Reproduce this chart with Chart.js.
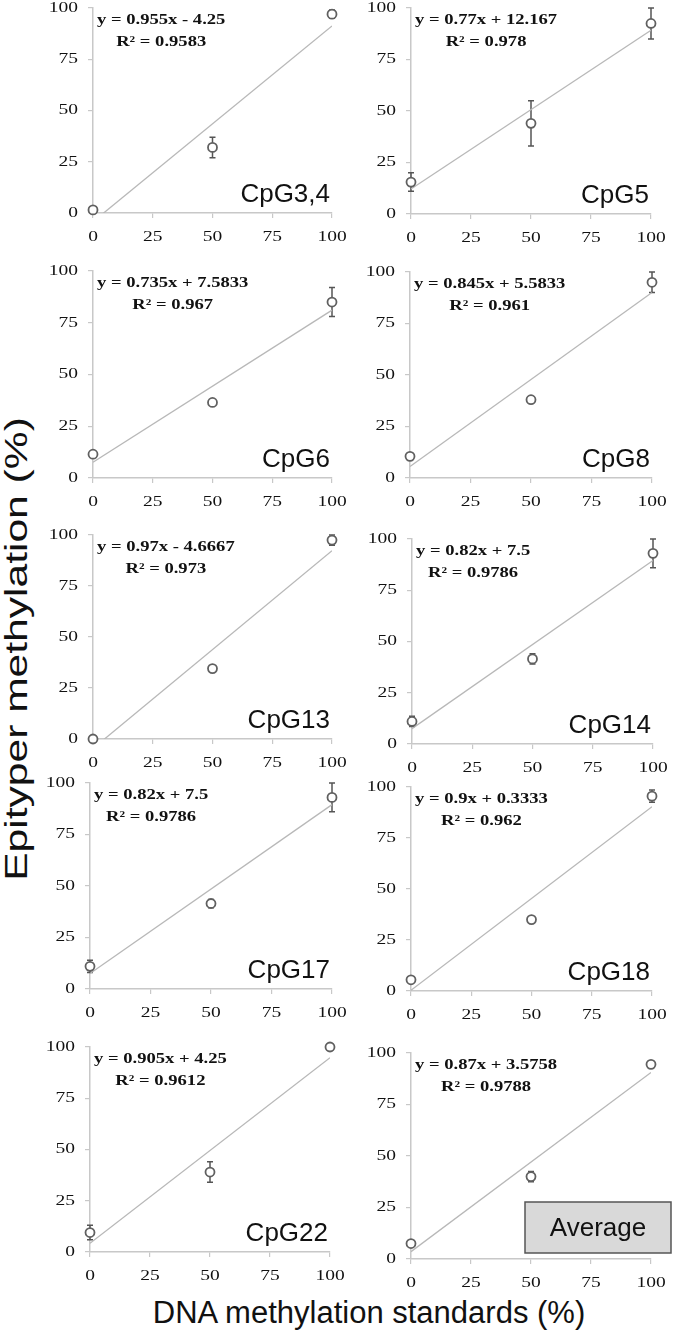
<!DOCTYPE html>
<html lang="en">
<head>
    <meta charset="UTF-8">
    <title>Epityper calibration</title>
    <style>
        body {
            margin: 0;
            background: #fff;
        }
        #page {
            position: relative;
            width: 677px;
            height: 1331px;
            overflow: hidden;
        }
        .panel {
            position: absolute;
        }
        .ytitle {
            position: absolute;
            left: 16px;
            top: 649px;
            font-family: "Liberation Sans", Arial, sans-serif;
            font-size: 32px;
            color: #111;
            white-space: nowrap;
            transform: translate(-50%, -50%) rotate(-90deg) scaleX(1.33);
        }
        .xtitle {
            position: absolute;
            left: 369px;
            top: 1297px;
            font-family: "Liberation Sans", Arial, sans-serif;
            font-size: 31px;
            line-height: 31px;
            color: #111;
            white-space: nowrap;
            transform: translateX(-50%);
        }
    </style>
    <script src="https://cdn.jsdelivr.net/npm/chart.js"></script>
</head>
<body>
<div id="page">
    <div class="ytitle">Epityper methylation (%)</div>
    <div class="xtitle">DNA methylation standards (%)</div>
</div>
<script>
    // data
    const panelNames = ['CpG3,4', 'CpG5', 'CpG6', 'CpG8', 'CpG13', 'CpG14', 'CpG17', 'CpG18', 'CpG22', 'Average'];
    const standards = [0, 50, 100];
    const axisTicks = [0, 25, 50, 75, 100];

    const measured = [
        [1.5, 32, 97],
        [15.5, 44, 92.5],
        [11.5, 36.5, 85],
        [10.5, 38, 95],
        [0, 34.5, 97.5],
        [11, 41.5, 93],
        [11, 41.5, 93],
        [5.5, 35, 95.5],
        [9.5, 39, 100],
        [7.5, 40, 94.5]
    ];
    const errors = [
        [0.8, 5, 2],
        [4.5, 11, 7.5],
        [1, 1, 7],
        [1, 1, 5],
        [0.5, 1, 2.5],
        [2.5, 2.5, 7],
        [3, 2, 7],
        [1, 1, 3],
        [3.5, 5, 0],
        [1, 2.5, 1]
    ];
    const slopes = [0.955, 0.77, 0.735, 0.845, 0.97, 0.82, 0.82, 0.9, 0.905, 0.87];
    const intercepts = [-4.25, 12.167, 7.5833, 5.5833, -4.6667, 7.5, 7.5, 0.3333, 4.25, 3.5758];
    const rSquared = ['0.9583', '0.978', '0.967', '0.961', '0.973', '0.9786', '0.9786', '0.962', '0.9612', '0.9788'];

    // plot-area boxes on the page (left, right, top, bottom)
    const boxes = [
        [93, 332, 8, 213], [411, 651, 8, 214],
        [93, 332, 271, 478], [410, 652, 272, 478],
        [93, 332, 535, 739], [412, 653, 539, 744],
        [90, 332, 783, 989], [411, 652, 787, 991],
        [90, 330, 1047, 1252], [411, 651, 1053, 1259]
    ];

    const AXW = 60, AXH = 40, PT = 12, PR = 26;
    const serif = '"Liberation Serif", "Times New Roman", serif';
    const sans = '"Liberation Sans", Arial, sans-serif';

    // the original's serif text is a bit wider than it is tall
    function wideText(ctx, text, x, y, sx, align) {
        const w = ctx.measureText(text).width * sx;
        let left = x;
        if (align === 'center') left = x - w / 2;
        if (align === 'right') left = x - w;
        ctx.save();
        ctx.translate(left, y);
        ctx.scale(sx, 1);
        ctx.textAlign = 'left';
        ctx.fillText(text, 0, 0);
        ctx.restore();
        return w;
    }

    const errorBars = {
        id: 'errorBars',
        beforeDatasetsDraw(chart, args, opts) {
            const ctx = chart.ctx, xs = chart.scales.x, ys = chart.scales.y;
            ctx.save();
            ctx.strokeStyle = '#555';
            ctx.lineWidth = 1.5;
            opts.means.forEach((m, i) => {
                const e = opts.err[i];
                if (!e) return;
                const px = xs.getPixelForValue(standards[i]);
                const top = ys.getPixelForValue(m + e), bot = ys.getPixelForValue(m - e);
                ctx.beginPath();
                ctx.moveTo(px, top); ctx.lineTo(px, bot);
                ctx.moveTo(px - 3, top); ctx.lineTo(px + 3, top);
                ctx.moveTo(px - 3, bot); ctx.lineTo(px + 3, bot);
                ctx.stroke();
            });
            ctx.restore();
        }
    };

    const tickLabels = {
        id: 'tickLabels',
        afterDraw(chart) {
            const ctx = chart.ctx, a = chart.chartArea, xs = chart.scales.x, ys = chart.scales.y;
            ctx.save();
            ctx.fillStyle = '#111';
            ctx.font = '15px ' + serif;
            ctx.textBaseline = 'middle';
            xs.ticks.forEach(t => wideText(ctx, String(t.value), xs.getPixelForValue(t.value), a.bottom + 24, 1.3, 'center'));
            ys.ticks.forEach(t => wideText(ctx, String(t.value), a.left - 15, ys.getPixelForValue(t.value), 1.3, 'right'));
            ctx.restore();
        }
    };

    const annotations = {
        id: 'annotations',
        afterDatasetsDraw(chart, args, opts) {
            const ctx = chart.ctx, a = chart.chartArea;
            ctx.save();
            ctx.fillStyle = '#111';
            ctx.font = 'bold 15px ' + serif;
            ctx.textBaseline = 'middle';
            const w1 = wideText(ctx, opts.eq, a.left + 4, a.top + 12, 1.24, 'left');
            wideText(ctx, opts.r2, a.left + 4 + w1 / 2, a.top + 34, 1.24, 'center');

            ctx.font = '26px ' + sans;
            if (opts.boxed) {
                const l = a.right - 126, r = a.right + 20, t = a.bottom - 57, b = a.bottom - 6;
                ctx.fillStyle = '#d9d9d9';
                ctx.fillRect(l, t, r - l, b - t);
                ctx.strokeStyle = '#555';
                ctx.lineWidth = 1.5;
                ctx.strokeRect(l, t, r - l, b - t);
                ctx.fillStyle = '#111';
                ctx.textAlign = 'center';
                ctx.textBaseline = 'middle';
                ctx.fillText(opts.name, (l + r) / 2, (t + b) / 2 + 1);
            } else {
                ctx.textAlign = 'right';
                ctx.textBaseline = 'alphabetic';
                ctx.fillText(opts.name, a.right - 2, a.bottom - 11);
            }
            ctx.restore();
        }
    };

    function axis(fit) {
        return {
            type: 'linear',
            min: 0,
            max: 100,
            afterBuildTicks: s => { s.ticks = axisTicks.map(v => ({ value: v })); },
            afterFit: fit,
            grid: { drawOnChartArea: false, drawTicks: true, tickLength: 5, color: '#c8c8c8', lineWidth: 1.2 },
            border: { color: '#c8c8c8', width: 1.5 },
            ticks: { display: false }
        };
    }

    const page = document.getElementById('page');
    panelNames.forEach((name, i) => {
        const [l, r, t, b] = boxes[i];
        const w = (r - l) + AXW + PR, h = (b - t) + PT + AXH;
        const div = document.createElement('div');
        div.className = 'panel';
        div.style.left = (l - AXW) + 'px';
        div.style.top = (t - PT) + 'px';
        const canvas = document.createElement('canvas');
        canvas.width = w;
        canvas.height = h;
        div.appendChild(canvas);
        page.appendChild(div);

        const b0 = intercepts[i];
        const eq = 'y = ' + slopes[i] + 'x ' + (b0 < 0 ? '- ' : '+ ') + Math.abs(b0);

        new Chart(canvas.getContext('2d'), {
            type: 'scatter',
            data: {
                datasets: [
                    {
                        data: standards.map((x, k) => ({ x: x, y: measured[i][k] })),
                        pointRadius: 4.5,
                        pointBorderWidth: 1.8,
                        pointBorderColor: '#606060',
                        pointBackgroundColor: '#fff',
                        clip: false
                    },
                    {
                        data: [{ x: 0, y: b0 }, { x: 100, y: slopes[i] * 100 + b0 }],
                        showLine: true,
                        pointRadius: 0,
                        borderColor: '#b8b8b8',
                        borderWidth: 1.3
                    }
                ]
            },
            options: {
                responsive: false,
                animation: false,
                layout: { padding: { top: PT, right: PR, left: 0, bottom: 0 } },
                plugins: {
                    legend: { display: false },
                    tooltip: { enabled: false },
                    errorBars: { means: measured[i], err: errors[i] },
                    annotations: { eq: eq, r2: 'R² = ' + rSquared[i], name: name, boxed: name === 'Average' }
                },
                scales: {
                    x: axis(s => { s.height = AXH; }),
                    y: axis(s => { s.width = AXW; })
                }
            },
            plugins: [errorBars, tickLabels, annotations]
        });
    });
</script>
</body>
</html>
